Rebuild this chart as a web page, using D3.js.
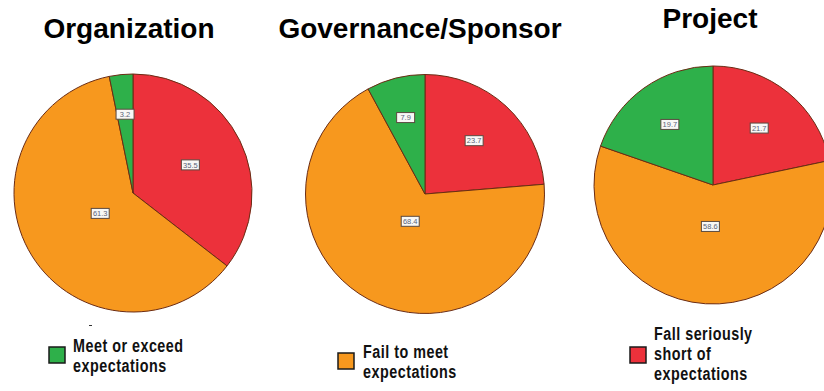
<!DOCTYPE html>
<html>
<head>
<meta charset="utf-8">
<script src="https://cdn.jsdelivr.net/npm/d3@7/dist/d3.min.js"></script>
<style>
  html, body { margin: 0; padding: 0; background: #fff; }
  svg { display: block; }
</style>
</head>
<body>
<svg id="chart" width="824" height="391"></svg>
<script>
// Assessment of expectations, percent of respondents per group
const groups = ["Organization", "Governance/Sponsor", "Project"];
const categories = ["Fall seriously short of expectations", "Fail to meet expectations", "Meet or exceed expectations"];
const fallShort = [35.5, 23.7, 21.7];
const failToMeet = [61.3, 68.4, 58.6];
const meetOrExceed = [3.2, 7.9, 19.7];
const colors = ["#ec313b", "#f7981e", "#2eb04a"];

// one legend entry shown beneath each pie
const legendCategory = [2, 1, 0];
const legendLines = [
  ["Meet or exceed", "expectations"],
  ["Fail to meet", "expectations"],
  ["Fall seriously", "short of", "expectations"]
];

// layout per panel
const panels = [
  { cx: 133, cy: 193, r: 119, titleX: 129, titleY: 38, legX: 49, legY: 347, textX: 73, textY: 352 },
  { cx: 425, cy: 194, r: 119.5, titleX: 420, titleY: 38, legX: 338, legY: 353, textX: 363, textY: 358 },
  { cx: 713, cy: 185, r: 119, titleX: 710, titleY: 28, legX: 630, legY: 347, textX: 654, textY: 340 }
];

const svg = d3.select("#chart");
const pie = d3.pie().sort(null).value(d => d.value);

groups.forEach((name, i) => {
  const p = panels[i];
  const data = categories.map((c, k) => ({
    category: c,
    value: [fallShort, failToMeet, meetOrExceed][k][i],
    color: colors[k]
  }));
  const arc = d3.arc().innerRadius(0).outerRadius(p.r);
  const g = svg.append("g").attr("transform", `translate(${p.cx},${p.cy})`);
  const arcs = pie(data);

  g.selectAll("path.slice")
    .data(arcs)
    .join("path")
    .attr("class", "slice")
    .attr("d", arc)
    .attr("fill", d => d.data.color)
    .attr("stroke", "#6b2c14")
    .attr("stroke-width", 1)
    .attr("stroke-linejoin", "round");

  // value labels placed at each sector's area centroid
  const lab = g.selectAll("g.lab")
    .data(arcs)
    .join("g")
    .attr("class", "lab")
    .attr("transform", d => {
      const theta = d.endAngle - d.startAngle;
      const mid = (d.startAngle + d.endAngle) / 2;
      const dist = 4 * p.r * Math.sin(theta / 2) / (3 * theta);
      return `translate(${dist * Math.sin(mid)},${-dist * Math.cos(mid)})`;
    });
  lab.append("rect")
    .attr("x", -9).attr("y", -5).attr("width", 18).attr("height", 10)
    .attr("fill", "#f8f8f6")
    .attr("stroke", "#5a4a40")
    .attr("stroke-width", 1);
  lab.append("text")
    .attr("text-anchor", "middle")
    .attr("dy", "0.35em")
    .attr("font-family", "Liberation Sans, Arial, sans-serif")
    .attr("font-size", 7.5)
    .attr("fill", "#5a6478")
    .text(d => d3.format(".1f")(d.data.value));

  // title
  svg.append("text")
    .attr("x", p.titleX).attr("y", p.titleY)
    .attr("text-anchor", "middle")
    .attr("font-family", "Liberation Sans, Arial, sans-serif")
    .attr("font-weight", "bold")
    .attr("font-size", 28)
    .attr("fill", "#000")
    .text(name);

  // legend entry
  const li = legendCategory[i];
  svg.append("rect")
    .attr("x", p.legX).attr("y", p.legY)
    .attr("width", 16).attr("height", 16)
    .attr("fill", colors[li])
    .attr("stroke", "#1a1a1a")
    .attr("stroke-width", 1.5);
  const t = svg.append("text")
    .attr("transform", `translate(${p.textX},${p.textY}) scale(0.82,1)`)
    .attr("font-family", "Liberation Sans, Arial, sans-serif")
    .attr("font-weight", "bold")
    .attr("font-size", 17.5)
    .attr("letter-spacing", 0.6)
    .attr("fill", "#111");
  legendLines[i].forEach((line, j) => {
    t.append("tspan").attr("x", 0).attr("y", j * 20).text(line);
  });
});

// small tick mark under the first pie
svg.append("line")
  .attr("x1", 89).attr("x2", 92).attr("y1", 325.5).attr("y2", 325.5)
  .attr("stroke", "#333").attr("stroke-width", 1);
</script>
</body>
</html>
